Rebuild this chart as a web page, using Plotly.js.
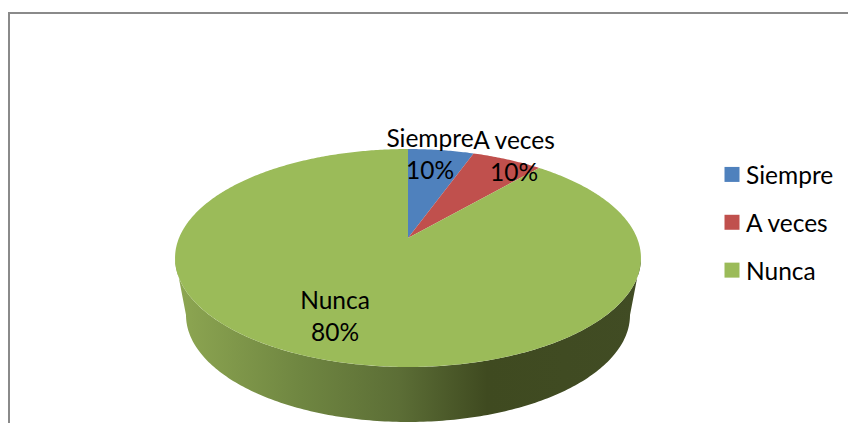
<!DOCTYPE html>
<html>
<head>
<meta charset="utf-8">
<script src="https://cdn.plot.ly/plotly-3.0.1.min.js"></script>
<style>html,body{margin:0;padding:0;background:#fff}#chart{width:848px;height:423px}</style>
</head>
<body>
<div id="chart"></div>
<script>
// Data
const categories = ['Siempre', 'A veces', 'Nunca'];
const labelPercents = [10, 10, 80];          // what the printed labels say
const drawnShares = [5.45, 5.85, 88.7];      // slice sizes as they actually appear in the picture
const colors = ['#4f81bd', '#c0504d', '#9bbb59'];

// 3D-pie projection (plot coordinates equal screen pixels)
const apex = {x: 408, y: 238}, A = 229, B = 105.3, K = 0.1835;
const top3D = {x: 408, y: 258, rx: 233, ry: 109};
const base3D = {x: 408, y: 315, rx: 222, ry: 107};
const project = t => {
  const u = Math.sin(t), v = Math.cos(t), d = 1 + K * v;
  return [apex.x + A * u / d, apex.y - B * v / d];
};

const traces = [];

// Side wall with horizontal gradient
const wallX = [], wallY = [];
for (let i = 0; i <= 180; i++) {
  const a = Math.PI * i / 180;
  wallX.push(top3D.x + top3D.rx * Math.cos(a));
  wallY.push(top3D.y + top3D.ry * Math.sin(a));
}
for (let i = 180; i >= 0; i--) {
  const a = Math.PI * i / 180;
  wallX.push(base3D.x + base3D.rx * Math.cos(a));
  wallY.push(base3D.y + base3D.ry * Math.sin(a));
}
traces.push({
  type: 'scatter', mode: 'none', x: wallX, y: wallY, fill: 'toself',
  showlegend: false, hoverinfo: 'skip',
  fillcolor: '#6d8340',
  fillgradient: {
    type: 'horizontal', start: 175, stop: 641,
    colorscale: [[0, '#8ea752'], [0.27, '#6f8641'], [0.48, '#5c6e36'], [0.67, '#3f4a20'], [1, '#414c24']]
  }
});

// Top face slices
let cum = 0;
const total = drawnShares.reduce((a, b) => a + b, 0);
categories.forEach((c, i) => {
  const start = cum / total * 2 * Math.PI;
  cum += drawnShares[i];
  const end = cum / total * 2 * Math.PI;
  const xs = [apex.x], ys = [apex.y];
  const n = Math.max(8, Math.ceil((end - start) * 90));
  for (let s = 0; s <= n; s++) {
    const p = project(start + (end - start) * s / n);
    xs.push(p[0]); ys.push(p[1]);
  }
  xs.push(apex.x); ys.push(apex.y);
  traces.push({
    type: 'scatter', mode: 'none', x: xs, y: ys, fill: 'toself', fillcolor: colors[i],
    name: c, showlegend: false, hoverinfo: 'name'
  });
});

// Legend entries
categories.forEach((c, i) => {
  traces.push({
    type: 'scatter', mode: 'markers', x: [null], y: [null], name: c, legendgroup: c,
    marker: {symbol: 'square', size: 15, color: colors[i], line: {width: 0}}, hoverinfo: 'skip'
  });
});

// Data labels
const labelX = [430, 514, 335];
const labelY = [157, 159, 319];
traces.push({
  type: 'scatter', mode: 'text', x: labelX, y: labelY,
  text: categories.map((c, i) => c + '<br>' + labelPercents[i] + '%'),
  textposition: 'middle center',
  textfont: {family: 'Lato, Carlito, sans-serif', size: 24.5, color: '#000'},
  showlegend: false, hoverinfo: 'skip'
});

const frameColor = '#8a8a8a';
const layout = {
  width: 848, height: 423,
  margin: {l: 0, r: 0, t: 0, b: 0},
  paper_bgcolor: '#fff', plot_bgcolor: '#fff',
  xaxis: {range: [0, 848], visible: false, fixedrange: true},
  yaxis: {range: [423, 0], visible: false, fixedrange: true},
  showlegend: true,
  legend: {
    x: 712 / 848, y: 1 - 152 / 423, xanchor: 'left', yanchor: 'top',
    bgcolor: 'rgba(0,0,0,0)', borderwidth: 0, tracegroupgap: 13,
    font: {family: 'Lato, Carlito, sans-serif', size: 24.5, color: '#000'}
  },
  shapes: [
    {type: 'line', xref: 'x', yref: 'y', x0: 9, y0: 423, x1: 9, y1: 13, line: {color: frameColor, width: 2}},
    {type: 'line', xref: 'x', yref: 'y', x0: 8, y0: 13, x1: 848, y1: 13, line: {color: frameColor, width: 2}}
  ]
};
Plotly.newPlot('chart', traces, layout, {displayModeBar: false, responsive: false}).then(gd => {
  // Legend text sits closer to its swatch than Plotly's minimum item width allows
  gd.querySelectorAll('.legend .legendtext').forEach(t => t.setAttribute('transform', 'translate(-6,0)'));
});
</script>
</body>
</html>
